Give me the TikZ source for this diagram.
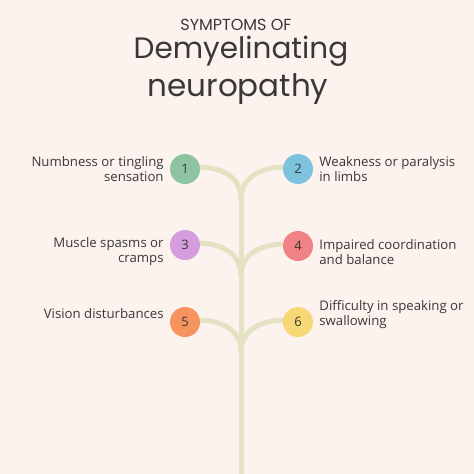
\documentclass[tikz,border=0pt]{standalone}
\usepackage{fontspec}
\setmainfont{Open Sans}
\newfontfamily\titlefont{Poppins}
\usetikzlibrary{positioning}
\definecolor{bgcol}{HTML}{FCF3EE}
\definecolor{stemcol}{HTML}{E4E2C4}
\definecolor{inkcol}{HTML}{3A3836}
\definecolor{dotA}{HTML}{8DC3A0}
\definecolor{dotB}{HTML}{7EC3DE}
\definecolor{dotC}{HTML}{D59DE0}
\definecolor{dotD}{HTML}{F08184}
\definecolor{dotE}{HTML}{F7935F}
\definecolor{dotF}{HTML}{F8D876}
\pgfdeclarelayer{paper}
\pgfdeclarelayer{stem}
\pgfsetlayers{paper,stem,main}

\begin{document}
\begin{tikzpicture}[x=1pt,y=-1pt,node distance=6pt,
  dot/.style={circle,minimum size=30pt,inner sep=0pt,text=inkcol,font=\fontsize{13}{15}\selectfont},
  lefttext/.style={align=right,text=inkcol,inner sep=0pt,font=\fontsize{13.2}{15}\selectfont},
  righttext/.style={align=left,text=inkcol,inner sep=0pt,font=\fontsize{13.2}{15}\selectfont},
  branch/.style={draw=stemcol,line width=5pt}]
\begin{pgfonlayer}{paper}
\fill[bgcol] (0,0) rectangle (474,474);
\end{pgfonlayer}
\useasboundingbox (0,0) rectangle (474,474);

% title
\node[text=inkcol,font=\titlefont\fontsize{16}{18}\selectfont] (sub) at (236,25) {SYMPTOMS OF};
\node[text=inkcol,font=\titlefont\fontsize{29.5}{32}\selectfont] (head1) at (241,51) {Demyelinating};
\node[text=inkcol,font=\titlefont\fontsize{31}{34}\selectfont] (head2) at (238,89) {neuropathy};

% dots
\node[dot,fill=dotA] (n1) at (185,169) {1};
\node[dot,fill=dotB] (n2) at (298,169) {2};
\node[dot,fill=dotC] (n3) at (185,245) {3};
\node[dot,fill=dotD] (n4) at (298,246) {4};
\node[dot,fill=dotE] (n5) at (185,322) {5};
\node[dot,fill=dotF] (n6) at (298,322) {6};

% stem and branches
\coordinate (m12) at (241,199);
\coordinate (m34) at (241,276);
\coordinate (m56) at (241,352);
\coordinate (foot) at (241,480);
\begin{pgfonlayer}{stem}
\draw[branch] (m12) -- (foot);
\draw[branch] (n1.center) ++(0,-2) -- ++(12,0) .. controls +(28,0) and +(0,-20) .. (m12);
\draw[branch] (n2.center) ++(0,-2) -- ++(-12,0) .. controls +(-28,0) and +(0,-20) .. (m12);
\draw[branch] (n3.center) ++(0,-2) -- ++(12,0) .. controls +(28,0) and +(0,-20) .. (m34);
\draw[branch] (n4.center) ++(0,-2) -- ++(-12,0) .. controls +(-28,0) and +(0,-20) .. (m34);
\draw[branch] (n5.center) ++(0,-2) -- ++(12,0) .. controls +(28,0) and +(0,-20) .. (m56);
\draw[branch] (n6.center) ++(0,-2) -- ++(-12,0) .. controls +(-28,0) and +(0,-20) .. (m56);
\end{pgfonlayer}

% labels
\node[lefttext,left=of n1] (t1) {Numbness or tingling\\sensation};
\node[righttext,right=of n2] (t2) {Weakness or paralysis\\in limbs};
\node[lefttext,left=of n3,yshift=-7pt] (t3) {Muscle spasms or\\cramps};
\node[righttext,right=of n4,yshift=-6pt] (t4) {Impaired coordination\\and balance};
\node[lefttext,left=of n5,yshift=8pt] (t5) {Vision disturbances};
\node[righttext,right=of n6,yshift=7pt] (t6) {Difficulty in speaking or\\swallowing};
\end{tikzpicture}
\end{document}
